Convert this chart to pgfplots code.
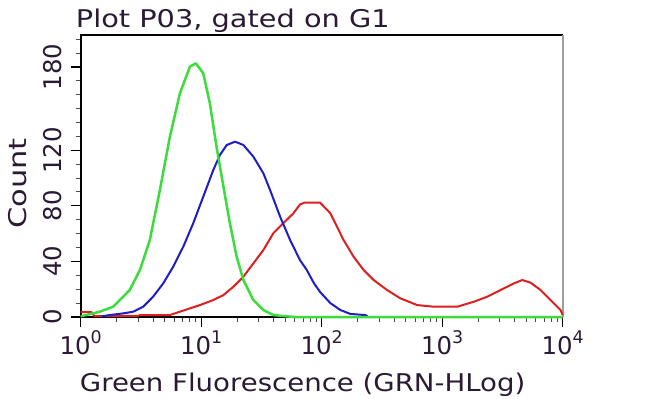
\documentclass[border=0pt]{standalone}
\usepackage{fontspec}
\setmainfont{DejaVu Sans}
\newfontfamily\labfont[FakeStretch=1.18]{DejaVu Sans}
\newfontfamily\xlabfont[FakeStretch=1.13]{DejaVu Sans}
\newfontfamily\countfont[FakeStretch=1.25]{DejaVu Sans}
\usepackage{pgfplots}
\pgfplotsset{compat=1.18}
\definecolor{txt}{HTML}{2B1A33}
\definecolor{cg}{HTML}{3CDC3C}
\definecolor{cb}{HTML}{1E1EC8}
\definecolor{cr}{HTML}{DC2020}
\newcommand\pw[1]{10\raisebox{11bp}{\fontsize{17.5}{18}\selectfont #1}}
\begin{document}
\begin{tikzpicture}
\path[use as bounding box] (-80.7bp,-82bp) rectangle (569.3bp,317bp);
\begin{axis}[at={(0,0)}, anchor=south west, scale only axis, width=482bp, height=282bp,
 xmode=log, xmin=1, xmax=10000, ymin=0, ymax=203, clip=false,
 axis line style={draw=none},
 /pgf/number format/assume math mode=true,
 xtick={1,10,100,1000,10000}, xticklabels={\pw{0},\pw{1},\pw{2},\pw{3},\pw{4}},
 minor xtick={2,3,4,5,6,7,8,9,20,30,40,50,60,70,80,90,200,300,400,500,600,700,800,900,2000,3000,4000,5000,6000,7000,8000,9000},
 ytick={0,40,80,120,180}, minor ytick={10,20,...,200},
 yticklabels={0,40,80,120,180},
 tick pos=left, tick align=outside,
 major tick length=10bp, minor tick length=5bp,
 tick style={black, line width=1.2bp},
 minor tick style={line width=1bp, black!70},
 ticklabel style={font=\fontsize{24.5}{26}\selectfont, text=txt},
 yticklabel style={rotate=90, anchor=base},
 xticklabel style={anchor=base},
 xticklabel shift=27.5bp,
 yticklabel shift=9.5bp,
]
\draw[black, line width=2bp] (rel axis cs:0,0) -- (rel axis cs:0,1) -- (rel axis cs:1,1);
\draw[black, line width=2bp] (rel axis cs:0,0) -- (rel axis cs:1,0);
\draw[gray!75, line width=2bp] (rel axis cs:1,1) -- (rel axis cs:1,0);
\addplot[cr, line width=2bp, line join=round] coordinates {
(1,3.5) (1.23,3.5) (1.3,0.6) (3.0,0.8) (3.1,1.4) (5.5,1.4) (6.66,3.8) (8.06,6.2) (9.77,8.6)
(12.6,12.2) (15.3,15.8) (18.5,21.8) (22.4,29.0) (27.1,38.6) (32.8,48.2) (39.7,60.3) (48,67.5)
(58.3,74.7) (66,81) (72,82.3) (97,82.3) (118,74.7) (134,65) (152,55.4) (184,43.4) (223,33.8)
(270,26.6) (349,19.4) (450,13.4) (619,8.6) (851,7.4) (1331,7.4) (1832,11.0) (2365,14.6)
(3050,19.4) (3940,24.2) (4620,26.6) (5420,24.7) (6560,19.4) (7940,12.2) (9610,5.0) (10000,1.4)
};
\addplot[cb, line width=2bp, line join=round] coordinates {
(1.5,0.5) (1.74,1.4) (2.25,2.6) (2.72,3.8) (3.30,7.4) (3.99,14.6) (4.84,24.2) (5.86,36.2)
(7.10,50.6) (8.59,67.5) (10.4,86.6) (12.6,105.8) (14.3,116.6) (16.3,123.8) (19.1,126.2)
(22.4,123.8) (27.1,115.4) (32.8,103.5) (37.3,91.4) (45.2,72.2) (54.7,55.4) (66,41) (75,34)
(80,29.5) (86,24.5) (97,18) (118,10) (143,5) (173,2.2) (230,1.4) (240,0.5)
};
\addplot[cg, line width=2.5bp, line join=round] coordinates {
(1,0.5) (1.44,3.8) (1.86,7.4) (2.55,19.4) (3.10,33.8) (3.75,55.4) (4.54,91.4) (5.50,129.8)
(6.66,161) (8.06,180.2) (9.04,182.6) (10.4,175.4) (11.8,153.8) (13.4,122.6) (15.3,93.8)
(17.3,67.5) (19.7,43.4) (22.4,26.6) (27.1,12.2) (32.8,5.0) (39.7,1.4) (48,0.7) (60,0) (10000,0)
};
\end{axis}
\node[anchor=base west, font=\labfont\fontsize{24.5}{26}\selectfont, text=txt, inner sep=0pt] at (-5bp,289bp) {Plot P03, gated on G1};
\node[anchor=base west, font=\xlabfont\fontsize{24.5}{26}\selectfont, text=txt, inner sep=0pt] at (-1bp,-74.7bp) {Green Fluorescence (GRN-HLog)};
\node[anchor=base, rotate=90, font=\countfont\fontsize{24.5}{26}\selectfont, text=txt, inner sep=0pt] at (-53.7bp,133.5bp) {Count};
\end{tikzpicture}
\end{document}
